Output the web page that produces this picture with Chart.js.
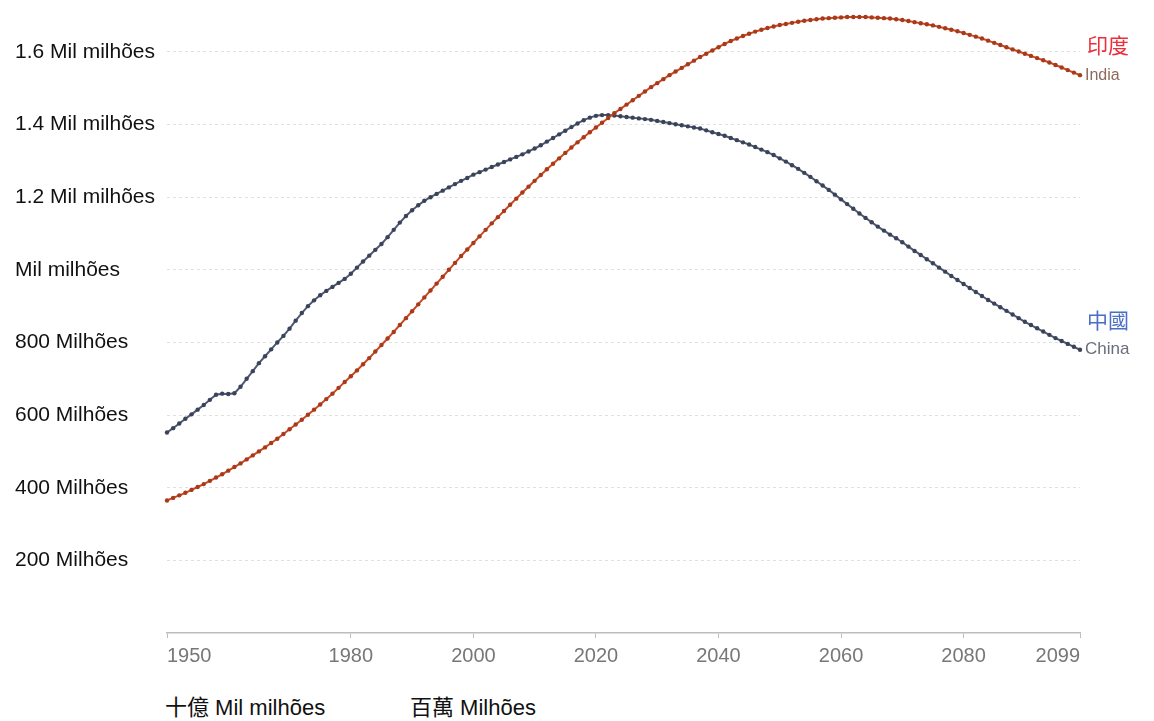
<!DOCTYPE html>
<html>
<head>
<meta charset="utf-8">
<script src="https://cdn.jsdelivr.net/npm/chart.js@4.4.1/dist/chart.umd.min.js"></script>
<style>
    body { margin: 0; background: #fff; font-family: "Liberation Sans", "Noto Sans CJK TC", sans-serif; }
    #wrap { position: absolute; left: 0; top: 0; width: 1154px; height: 680px; }
    .unit { position: absolute; top: 695px; font-size: 22px; color: #111; line-height: 26px; white-space: nowrap; }
</style>
</head>
<body>
<div id="wrap"><canvas id="pop"></canvas></div>
<div class="unit" style="left:165px">十億 Mil milhões</div>
<div class="unit" style="left:410px">百萬 Milhões</div>
<script>
// population, millions, one value per year 1950..2099
const firstYear = 1950;
const lastYear = 2099;

const chinaPop = [
    552, 564, 577, 590, 602, 615, 628, 642, 656, 659,
    658, 660, 678, 700, 721, 743, 762, 781, 800, 818,
    838, 860, 881, 900, 916, 930, 942, 953, 964, 975,
    989, 1006, 1023, 1039, 1055, 1071, 1090, 1110, 1130, 1148,
    1164, 1178, 1190, 1200, 1209, 1218, 1227, 1236, 1245, 1253,
    1262, 1269, 1276, 1283, 1290, 1297, 1304, 1311, 1318, 1326,
    1334, 1343, 1353, 1363, 1373, 1383, 1393, 1403, 1412, 1419,
    1424, 1426, 1426, 1425, 1423, 1421, 1419, 1417, 1415, 1413,
    1410, 1407, 1404, 1401, 1398, 1395, 1392, 1389, 1384, 1379,
    1374, 1369, 1363, 1357, 1351, 1345, 1338, 1331, 1324, 1316,
    1307, 1298, 1288, 1278, 1267, 1256, 1244, 1232, 1220, 1207,
    1194, 1181, 1168, 1155, 1143, 1131, 1119, 1108, 1097, 1087,
    1076, 1064, 1052, 1041, 1029, 1018, 1006, 995, 983, 972,
    961, 950, 939, 928, 917, 907, 897, 887, 877, 867,
    857, 848, 839, 830, 821, 812, 804, 796, 788, 780
];

const indiaPop = [
    365, 372, 379, 386, 394, 402, 410, 419, 428, 437,
    447, 457, 467, 478, 489, 500, 511, 523, 535, 548,
    561, 574, 587, 601, 615, 629, 644, 659, 675, 691,
    707, 723, 740, 757, 775, 793, 811, 829, 848, 867,
    886, 905, 924, 943, 962, 981, 1000, 1019, 1038, 1056,
    1074, 1092, 1110, 1128, 1145, 1162, 1179, 1196, 1213, 1229,
    1245, 1261, 1277, 1292, 1307, 1322, 1337, 1351, 1365, 1379,
    1392, 1405, 1418, 1431, 1443, 1455, 1467, 1479, 1491, 1503,
    1514, 1525, 1536, 1546, 1556, 1566, 1576, 1586, 1595, 1604,
    1613, 1622, 1630, 1637, 1644, 1650, 1656, 1661, 1666, 1670,
    1674, 1677, 1680, 1683, 1686, 1688, 1690, 1692, 1693, 1694,
    1695, 1696, 1696, 1696, 1696, 1695, 1694, 1693, 1692, 1690,
    1688, 1685, 1682, 1679, 1676, 1673, 1669, 1665, 1661, 1657,
    1652, 1647, 1642, 1637, 1631, 1625, 1619, 1613, 1607, 1601,
    1595, 1589, 1583, 1577, 1571, 1564, 1557, 1550, 1543, 1536
];

const xTicks = [1950, 1980, 2000, 2020, 2040, 2060, 2080, 2099];
const yTicks = [200, 400, 600, 800, 1000, 1200, 1400, 1600];
const yTickLabels = ['200 Milhões', '400 Milhões', '600 Milhões', '800 Milhões',
    'Mil milhões', '1.2 Mil milhões', '1.4 Mil milhões', '1.6 Mil milhões'];

const seriesNames = ['India', 'China'];
const seriesNamesZh = ['印度', '中國'];

const toPoints = (values) => values.map((v, i) => ({x: firstYear + i, y: v}));

// names at the end of each line
const endLabels = {
    id: 'endLabels',
    afterDatasetsDraw(chart) {
        const ctx = chart.ctx;
        const zhColors = ['#ec2f3b', '#4a6fc4'];
        const enColors = ['#8d6a5c', '#6a6e7a'];
        const enSizes = [16, 17];
        chart.data.datasets.forEach((ds, i) => {
            const pts = chart.getDatasetMeta(i).data;
            const last = pts[pts.length - 1];
            ctx.save();
            ctx.textAlign = 'left';
            ctx.textBaseline = 'middle';
            ctx.font = enSizes[i] + 'px "Liberation Sans", sans-serif';
            ctx.fillStyle = enColors[i];
            ctx.fillText(seriesNames[i], last.x + 5, last.y);
            ctx.font = '21px "Noto Sans CJK TC", sans-serif';
            ctx.fillStyle = zhColors[i];
            ctx.fillText(seriesNamesZh[i], last.x + 7, last.y - 30);
            ctx.restore();
        });
    }
};

new Chart(document.getElementById('pop').getContext('2d'), {
    type: 'line',
    data: {
        datasets: [
            {
                label: seriesNames[0],
                data: toPoints(indiaPop),
                borderColor: '#c84a21',
                backgroundColor: '#a8391a',
                borderWidth: 2,
                pointRadius: 2.2,
                pointBorderWidth: 0,
                clip: false
            },
            {
                label: seriesNames[1],
                data: toPoints(chinaPop),
                borderColor: '#4d5872',
                backgroundColor: '#3a4358',
                borderWidth: 2,
                pointRadius: 2.2,
                pointBorderWidth: 0,
                clip: false
            }
        ]
    },
    options: {
        responsive: true,
        maintainAspectRatio: false,
        animation: false,
        layout: {padding: {left: 15, right: 74, top: 13, bottom: 0}},
        plugins: {legend: {display: false}, tooltip: {enabled: false}},
        scales: {
            x: {
                type: 'linear',
                min: firstYear,
                max: lastYear,
                afterBuildTicks: (scale) => { scale.ticks = xTicks.map(v => ({value: v})); },
                afterFit: (scale) => { scale.height = 47; },
                ticks: {
                    align: 'inner',
                    maxRotation: 0,
                    padding: 6,
                    color: '#777',
                    font: {family: '"Liberation Sans", sans-serif', size: 20},
                    callback: (v) => String(v)
                },
                grid: {drawOnChartArea: false, drawTicks: true, tickLength: 5, color: '#bdbdbd'},
                border: {display: true, color: '#bdbdbd', width: 1.5}
            },
            y: {
                min: 0,
                max: 1700,
                afterBuildTicks: (scale) => { scale.ticks = yTicks.map(v => ({value: v})); },
                afterFit: (scale) => { scale.width = 152; },
                ticks: {
                    crossAlign: 'far',
                    color: '#111',
                    font: {family: '"Liberation Sans", sans-serif', size: 21},
                    callback: (v) => yTickLabels[yTicks.indexOf(v)]
                },
                grid: {drawTicks: false, color: '#e0e0e0', lineWidth: 1},
                border: {display: false, dash: [3, 3]}
            }
        }
    },
    plugins: [endLabels]
});
</script>
</body>
</html>
